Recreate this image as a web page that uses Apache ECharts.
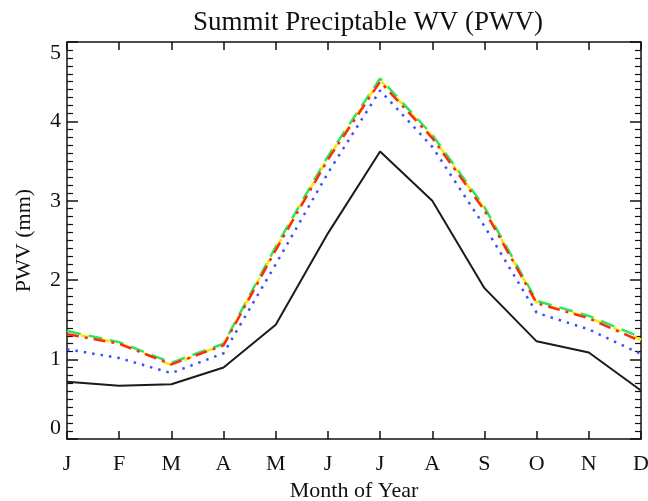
<!DOCTYPE html>
<html>
<head>
<meta charset="utf-8">
<script src="https://cdn.jsdelivr.net/npm/echarts@6/dist/echarts.min.js"></script>
<style>
  html, body { margin: 0; padding: 0; background: #fff; }
  #pwv { width: 648px; height: 501px; }
</style>
</head>
<body>
<div id="pwv"></div>
<script>
(function() {

const months = ["J", "F", "M", "A", "M", "J", "J", "A", "S", "O", "N", "D"];
const yTicks = [0, 1, 2, 3, 4, 5];

const pwvBlack  = [0.72, 0.67, 0.69, 0.90, 1.44, 2.59, 3.62, 3.00, 1.90, 1.23, 1.09, 0.61];
const pwvBlue   = [1.13, 1.02, 0.83, 1.08, 2.20, 3.35, 4.39, 3.68, 2.68, 1.59, 1.38, 1.07];
const pwvGreen  = [1.36, 1.22, 0.96, 1.20, 2.42, 3.56, 4.54, 3.83, 2.92, 1.74, 1.55, 1.28];
const pwvYellow = [1.34, 1.21, 0.93, 1.19, 2.40, 3.54, 4.52, 3.81, 2.90, 1.72, 1.53, 1.25];
const pwvRed    = [1.32, 1.20, 0.94, 1.18, 2.38, 3.52, 4.50, 3.79, 2.88, 1.71, 1.52, 1.23];

const serif = "'Liberation Serif', 'DejaVu Serif', serif";
const ink = "#111111";

const axisLine = { show: true, onZero: false, lineStyle: { color: ink, width: 1.5 } };

const line = (data, color, type, width, offset) => ({
  type: "line",
  data: data,
  symbol: "none",
  silent: true,
  lineStyle: { color: color, width: width, type: type, dashOffset: offset || 0 },
  z: 3
});

const option = {
  animation: false,
  backgroundColor: "#fff",
  title: {
    text: "Summit Preciptable WV (PWV)",
    left: 363,
    textAlign: "center",
    top: 4,
    textStyle: { fontFamily: serif, fontSize: 27, fontWeight: "normal", color: ink }
  },
  grid: { left: 67, right: 7, top: 42, bottom: 62, outerBoundsMode: "none", containLabel: false },
  xAxis: [
    {
      type: "category",
      data: months,
      boundaryGap: false,
      position: "bottom",
      name: "Month of Year",
      nameLocation: "middle",
      nameGap: 38,
      nameTextStyle: { fontFamily: serif, fontSize: 22, color: ink },
      axisLine: axisLine,
      axisTick: { show: true, inside: true, length: 8, alignWithLabel: true, lineStyle: { color: ink, width: 1.5 } },
      axisLabel: { fontFamily: serif, fontSize: 22, color: ink, margin: 14, interval: 0 },
      splitLine: { show: false }
    },
    {
      type: "category",
      data: months,
      boundaryGap: false,
      position: "top",
      axisLine: axisLine,
      axisTick: { show: true, inside: true, length: 8, lineStyle: { color: ink, width: 1.5 } },
      axisLabel: { show: false },
      splitLine: { show: false }
    }
  ],
  yAxis: [
    {
      type: "value",
      min: yTicks[0],
      max: yTicks[yTicks.length - 1],
      interval: 1,
      position: "left",
      name: "PWV (mm)",
      nameLocation: "middle",
      nameGap: 32,
      nameTextStyle: { fontFamily: serif, fontSize: 22, color: ink },
      axisLine: axisLine,
      axisTick: { show: true, inside: true, length: 11, lineStyle: { color: ink, width: 1.5 } },
      minorTick: { show: true, splitNumber: 10, length: 6, lineStyle: { color: ink, width: 1.2 } },
      axisLabel: {
        fontFamily: serif, fontSize: 22, color: ink, margin: 6,
        verticalAlignMinLabel: "bottom",
        verticalAlignMaxLabel: "top"
      },
      splitLine: { show: false }
    },
    {
      type: "value",
      min: yTicks[0],
      max: yTicks[yTicks.length - 1],
      interval: 1,
      position: "right",
      axisLine: axisLine,
      axisTick: { show: true, inside: true, length: 11, lineStyle: { color: ink, width: 1.5 } },
      minorTick: { show: true, splitNumber: 10, length: 6, lineStyle: { color: ink, width: 1.2 } },
      axisLabel: { show: false },
      splitLine: { show: false }
    }
  ],
  series: [
    line(pwvBlack, "#1a1a1a", "solid", 2),
    line(pwvBlue, "#3a4dff", [2.5, 6], 2.5),
    line(pwvGreen, "#2ee65a", [14, 8], 2.5),
    line(pwvYellow, "#f5ea00", [8, 14], 2.5, 8),
    line(pwvRed, "#ff2a10", [12, 6, 3, 6], 2.5)
  ]
};

const chart = echarts.init(document.getElementById("pwv"), null, { renderer: "canvas" });
chart.setOption(option);

window.addEventListener("resize", () => chart.resize());
})();
</script>
</body>
</html>
